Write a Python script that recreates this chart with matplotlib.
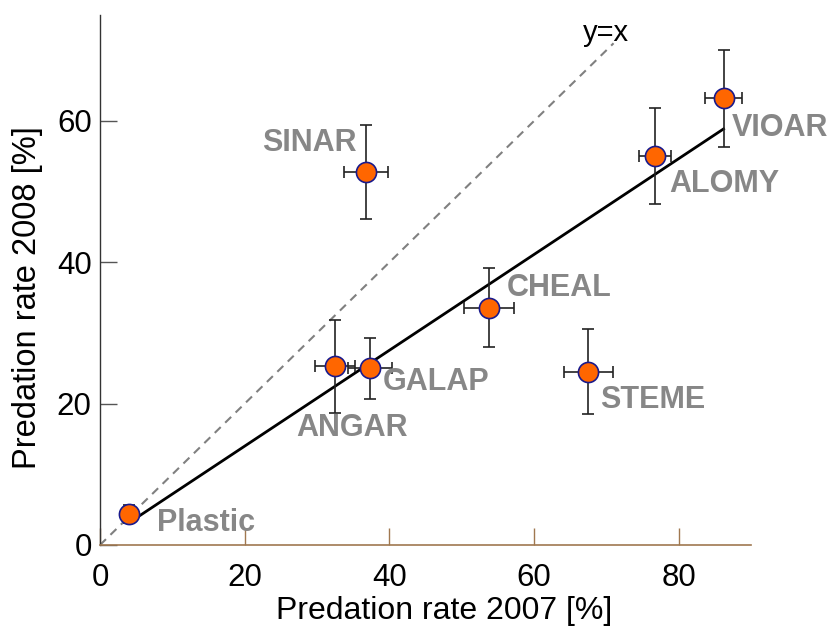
import matplotlib
matplotlib.use("Agg")
import matplotlib.pyplot as plt
from matplotlib import font_manager
import numpy as np

plt.rcParams['font.family'] = ['Liberation Sans', 'DejaVu Sans']

# Data
species = ["Plastic", "ANGAR", "GALAP", "SINAR", "CHEAL", "STEME", "ALOMY", "VIOAR"]
rate_2007 = [4.0, 32.5, 37.3, 36.8, 53.8, 67.5, 76.7, 86.2]
rate_2008 = [4.4, 25.3, 25.0, 52.8, 33.6, 24.5, 55.0, 63.2]
err_2007 = [0.8, 2.8, 3.0, 3.0, 3.5, 3.4, 2.2, 2.6]
err_2008 = [1.3, 6.6, 4.3, 6.7, 5.6, 6.0, 6.8, 6.9]
fit_slope = 0.678
fit_intercept = 0.43
xticks = [0, 20, 40, 60, 80]
yticks = [0, 20, 40, 60]

# label placement (data units: left edge, vertical centre)
label_pos = {
    "Plastic": (7.9, 3.1),
    "ANGAR": (27.1, 16.6),
    "GALAP": (39.1, 23.1),
    "SINAR": (22.4, 56.9),
    "CHEAL": (56.2, 36.3),
    "STEME": (69.2, 20.5),
    "ALOMY": (78.7, 51.1),
    "VIOAR": (87.3, 59.0),
}

names = {f.name for f in font_manager.fontManager.ttflist}
narrow = 'Liberation Sans Narrow' if 'Liberation Sans Narrow' in names else 'Liberation Sans'

fig = plt.figure(figsize=(8.32, 6.28), dpi=100)
ax = fig.add_axes([100/832, 83/628, 651/832, 530/628])
ax.set_xlim(0, 90)
ax.set_ylim(0, 75)

# y = x reference line
ax.plot([0, 71], [0, 71], linestyle=(0, (4, 3)), color='#808080', lw=1.5, zorder=1)
ax.text(66.8, 72.4, "y=x", fontsize=21, color='black', va='center', ha='left')

# regression line
xf = np.array([min(rate_2007) - 0.1, max(rate_2007)])
ax.plot(xf, fit_slope * xf + fit_intercept, color='black', lw=2, zorder=2)

ax.errorbar(rate_2007, rate_2008, xerr=err_2007, yerr=err_2008, fmt='none',
            ecolor='#222222', elinewidth=1.2, capsize=4.5, capthick=1.2, zorder=3)
ax.plot(rate_2007, rate_2008, 'o', markersize=14.5, markerfacecolor='#ff6600',
        markeredgecolor='#1a1a8c', markeredgewidth=1.2, linestyle='none', zorder=4)

for name in species:
    lx, ly = label_pos[name]
    ax.text(lx, ly, name, fontsize=22, fontweight='bold', color='#878787',
            ha='left', va='center', zorder=5)

for s in ['top', 'right']:
    ax.spines[s].set_visible(False)
ax.spines['left'].set_color('#333333')
ax.spines['bottom'].set_color('#a07850')
ax.spines['left'].set_linewidth(1.0)
ax.spines['bottom'].set_linewidth(1.2)

ax.set_xticks(xticks)
ax.set_yticks(yticks)
ax.tick_params(axis='x', direction='in', length=12, color='#a07850', width=1,
               labelsize=25 if narrow != 'Liberation Sans' else 22.5, pad=13)
for lab in ax.get_xticklabels():
    lab.set_family([narrow, 'Liberation Sans', 'DejaVu Sans'])
ax.tick_params(axis='y', direction='in', length=12, color='#555555', width=1,
               labelsize=22.5, pad=6)
ax.set_xlabel("Predation rate 2007 [%]", fontsize=23)
ax.set_ylabel("Predation rate 2008 [%]", fontsize=23.5)
ax.xaxis.set_label_coords((444 - 100) / 651, -0.097)
ax.yaxis.set_label_coords((43 - 100) / 651, (545 - 298) / 530)

fig.savefig("out.png", dpi=100)
